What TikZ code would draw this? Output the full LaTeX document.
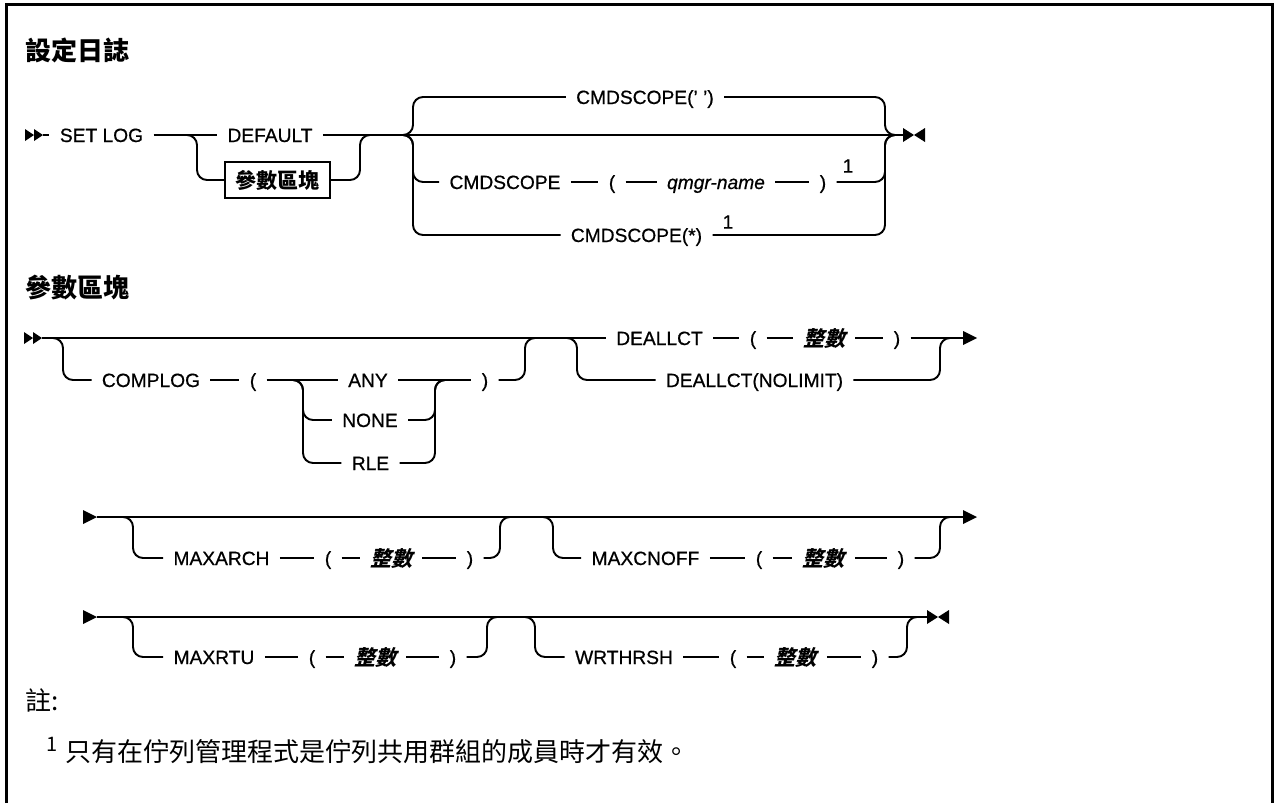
\documentclass[tikz,border=0pt]{standalone}
\usepackage{fontspec}
\setmainfont{Liberation Sans}[FakeBold=0.6]
\newfontfamily\cjk{Noto Sans CJK TC}
\newfontfamily\cjkit[FakeSlant=0.25]{Noto Sans CJK TC}

\begin{document}
\begin{tikzpicture}[x=0.5pt,y=-0.5pt,
  font=\fontsize{9.6}{11}\selectfont,
  tok/.style={inner xsep=5pt,inner ysep=0pt,text height=7pt,text depth=0pt},
  varb/.style={tok,font=\fontsize{9.6}{11}\selectfont\itshape},
  intg/.style={tok,text height=8pt,font=\fontsize{10.5}{12}\selectfont\cjkit\bfseries},
  supno/.style={inner sep=0pt,font=\fontsize{9.6}{11}\selectfont},
  blk/.style={draw,line width=1pt,inner sep=0pt,minimum width=52.5pt,minimum height=18pt,text height=8pt,text depth=0pt,font=\fontsize{10.5}{12}\selectfont\cjk\bfseries},
  hdr/.style={anchor=west,inner sep=0pt,font=\fontsize{13}{15}\selectfont\cjk\bfseries},
  notetxt/.style={anchor=west,inner sep=0pt,font=\fontsize{13}{15}\selectfont\cjk},
  rail/.style={line width=0.95pt,rounded corners=5pt},
  startmark/.pic={\fill (0,-6) -- (9,0) -- (0,6) -- cycle (9,-6) -- (18,0) -- (9,6) -- cycle;},
  endmark/.pic={\fill (0,-7) -- (11,0) -- (0,7) -- cycle (22,-7) -- (11,0) -- (22,7) -- cycle;},
  contmark/.pic={\fill (0,-7) -- (14,0) -- (0,7) -- cycle;}]
\useasboundingbox (0,0) rectangle (1274,803);
\draw[line width=1.5pt] (6.5,803) -- (6.5,4.5) -- (1272,4.5) -- (1272,803);

% SET LOG
\node[hdr] (t1) at (25,50) {設定日誌};
\pic at (25,135) {startmark};
\coordinate (s1) at (43,135);
\node[tok] (setlog) at (101.5,135) {SET LOG};
\node[tok] (default) at (270,135) {DEFAULT};
\node[blk] (pblk) at (277.5,180) {參數區塊};
\node[tok] (cs1) at (645,97) {CMDSCOPE(' ')};
\node[tok] (cs2) at (505,182) {CMDSCOPE};
\node[tok] (lp2) at (612,182) {(};
\node[varb] (qm) at (716,182) {qmgr-name};
\node[tok] (rp2) at (823,182) {)};
\node[supno] (n1) at (848,166) {1};
\node[tok] (cs3) at (636.5,235) {CMDSCOPE(*)};
\node[supno] (n2) at (728,222) {1};
\coordinate (a1) at (187,135);
\coordinate (b1) at (370,135);
\coordinate (a2) at (400,135);
\coordinate (b2) at (898,135);
\coordinate (e1) at (903,135);
\pic at (e1) {endmark};
\draw[rail] (s1) -- (setlog.west);
\draw[rail] (setlog.east) -- (default.west);
\draw[rail] (default.east) -- (e1);
\draw[rail] (a1) -- ([xshift=5pt]a1) |- (pblk.west);
\draw[rail] (pblk.east) -| ([xshift=-5pt]b1) -- (b1);
\foreach \n in {cs1,cs2,cs3}
  \draw[rail] (a2) -- ([xshift=6.5pt]a2) |- (\n.west);
\foreach \n in {cs1,rp2,cs3}
  \draw[rail] (\n.east) -| ([xshift=-6.5pt]b2) -- (b2);
\foreach \p/\q in {cs2/lp2,lp2/qm,qm/rp2}
  \draw[rail] (\p.east) -- (\q.west);

% parameter block
\node[hdr] (t2) at (25,288) {參數區塊};
\pic at (24,338) {startmark};
\coordinate (s2) at (42,338);
\node[tok] (complog) at (151,380) {COMPLOG};
\node[tok] (lp3) at (253,380) {(};
\node[tok] (any) at (368,380) {ANY};
\node[tok] (none) at (370,420) {NONE};
\node[tok] (rle) at (370.5,463) {RLE};
\node[tok] (rp3) at (485,380) {)};
\node[tok] (deallct) at (659.5,338) {DEALLCT};
\node[tok] (lp4) at (753,338) {(};
\node[intg] (i4) at (824,338) {整數};
\node[tok] (rp4) at (897,338) {)};
\node[tok] (nolimit) at (754.5,380) {DEALLCT(NOLIMIT)};
\coordinate (a3) at (53,338);
\coordinate (b3) at (535,338);
\coordinate (a4) at (293,380);
\coordinate (b4) at (445,380);
\coordinate (a5) at (567,338);
\coordinate (b5) at (950,338);
\coordinate (c1) at (963,338);
\pic at (c1) {contmark};
\draw[rail] (s2) -- (deallct.west);
\draw[rail] (rp4.east) -- (c1);
\draw[rail] (a3) -- ([xshift=5pt]a3) |- (complog.west);
\draw[rail] (rp3.east) -| ([xshift=-5pt]b3) -- (b3);
\foreach \n in {none,rle}{
  \draw[rail] (a4) -- ([xshift=5pt]a4) |- (\n.west);
  \draw[rail] (\n.east) -| ([xshift=-5pt]b4) -- (b4);}
\draw[rail] (a5) -- ([xshift=5pt]a5) |- (nolimit.west);
\draw[rail] (nolimit.east) -| ([xshift=-5pt]b5) -- (b5);
\foreach \p/\q in {complog/lp3,lp3/any,any/rp3,deallct/lp4,lp4/i4,i4/rp4}
  \draw[rail] (\p.east) -- (\q.west);

\pic at (83,517) {contmark};
\coordinate (s3) at (97,517);
\node[tok] (maxarch) at (221.5,558) {MAXARCH};
\node[tok] (lp5) at (328,558) {(};
\node[intg] (i5) at (391,558) {整數};
\node[tok] (rp5) at (470,558) {)};
\node[tok] (maxcnoff) at (645.5,558) {MAXCNOFF};
\node[tok] (lp6) at (759,558) {(};
\node[intg] (i6) at (823.5,558) {整數};
\node[tok] (rp6) at (901,558) {)};
\coordinate (a6) at (123,517);
\coordinate (b6) at (510,517);
\coordinate (a7) at (543,517);
\coordinate (b7) at (950,517);
\coordinate (c2) at (963,517);
\pic at (c2) {contmark};
\draw[rail] (s3) -- (c2);

\pic at (83,617) {contmark};
\coordinate (s4) at (97,617);
\node[tok] (maxrtu) at (214,657) {MAXRTU};
\node[tok] (lp7) at (312,657) {(};
\node[intg] (i7) at (375,657) {整數};
\node[tok] (rp7) at (453,657) {)};
\node[tok] (wrthrsh) at (624,657) {WRTHRSH};
\node[tok] (lp8) at (733,657) {(};
\node[intg] (i8) at (795.5,657) {整數};
\node[tok] (rp8) at (875,657) {)};
\coordinate (a8) at (123,617);
\coordinate (b8) at (497,617);
\coordinate (a9) at (525,617);
\coordinate (b9) at (917,617);
\coordinate (e2) at (927,617);
\pic at (e2) {endmark};
\draw[rail] (s4) -- (e2);

\foreach \a/\k/\r/\b in {a6/maxarch/rp5/b6,a7/maxcnoff/rp6/b7,a8/maxrtu/rp7/b8,a9/wrthrsh/rp8/b9}{
  \draw[rail] (\a) -- ([xshift=5pt]\a) |- (\k.west);
  \draw[rail] (\r.east) -| ([xshift=-5pt]\b) -- (\b);}
\foreach \p/\q in {maxarch/lp5,lp5/i5,i5/rp5,maxcnoff/lp6,lp6/i6,i6/rp6,
                   maxrtu/lp7,lp7/i7,i7/rp7,wrthrsh/lp8,lp8/i8,i8/rp8}
  \draw[rail] (\p.east) -- (\q.west);

% notes
\node[notetxt] (notes) at (25,700) {註:};
\node[notetxt] (fn1) at (46,750) {{\fontsize{10}{12}\selectfont\raisebox{5pt}{1}}\hspace{4pt}只有在佇列管理程式是佇列共用群組的成員時才有效。};
\end{tikzpicture}
\end{document}
